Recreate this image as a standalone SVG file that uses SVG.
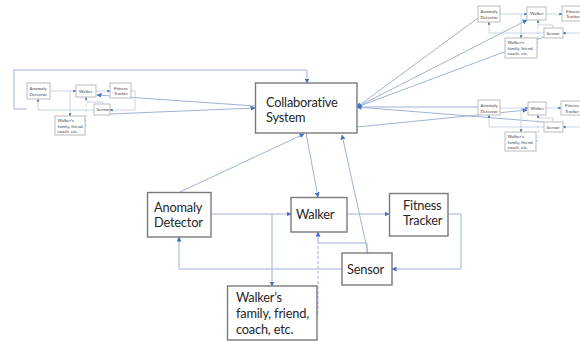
<svg xmlns="http://www.w3.org/2000/svg" width="580" height="341" viewBox="0 0 580 341">
  <style>
    .box { fill: #ffffff; stroke: #7a7a7a; stroke-width: 1.4; }
    .sbox { fill: #ffffff; stroke: #b4b4b4; stroke-width: 0.9; }
    .lbl { font-family: Lato, "Liberation Sans", sans-serif; font-size: 12.8px; letter-spacing: -0.2px; fill: #262626; }
    .tiny { font-family: Lato, "Liberation Sans", sans-serif; font-size: 4.4px; fill: #444444; }
    .ln { fill: none; stroke: #9fb2d6; stroke-width: 1; }
    .sln { fill: none; stroke: #bccae2; stroke-width: 0.8; }
    .dash { stroke-dasharray: 3 2; }
  </style>
  <defs>
    <marker id="arr" viewBox="0 0 10 10" refX="9" refY="5" markerWidth="5" markerHeight="5" orient="auto" markerUnits="userSpaceOnUse">
      <path d="M0,0 L10,5 L0,10 z" fill="#4472c4"/>
    </marker>
    <marker id="sarr" viewBox="0 0 10 10" refX="9" refY="5" markerWidth="3" markerHeight="3" orient="auto" markerUnits="userSpaceOnUse">
      <path d="M0,0 L10,5 L0,10 z" fill="#4472c4"/>
    </marker>
  </defs>

  <!-- connectors -->
  <g id="connectors">
    <!-- main cluster -->
    <path class="ln" d="M211,214 H291" marker-end="url(#arr)"/>
    <path class="ln" d="M272,214 V286" marker-end="url(#arr)"/>
    <path class="ln" d="M347,214 H389" marker-end="url(#arr)"/>
    <path class="ln" d="M448,214 H461 V269 H392" marker-end="url(#arr)"/>
    <path class="ln" d="M342,269 H179 V237" marker-end="url(#arr)"/>
    <path class="ln" d="M367,253 V243 H318 V232" marker-end="url(#arr)"/>
    <path class="ln dash" d="M317,313 H318 V243"/>
    <path class="ln" d="M368,253 L342,135" marker-end="url(#arr)"/>
    <path class="ln" d="M306,133 L318,197" marker-end="url(#arr)"/>
    <path class="ln" d="M180,192 L304,134" marker-end="url(#arr)"/>
    <path class="ln" d="M27,109 H14 V70 H307 V83" marker-end="url(#arr)"/>

    <!-- links between the collaborative system and the remote clusters -->
    <path class="ln" d="M255,106 L97,95" marker-end="url(#arr)"/>
    <path class="ln" d="M110,114 L255,108" marker-end="url(#arr)"/>
    <path class="ln" d="M478,18 L357,107" marker-end="url(#arr)"/>
    <path class="ln" d="M357,107 L527,20" marker-end="url(#arr)"/>
    <path class="ln" d="M544,37 L357,107" marker-end="url(#arr)"/>
    <path class="ln" d="M478,107 L357,107" marker-end="url(#arr)"/>
    <path class="ln" d="M357,127 L527,110" marker-end="url(#arr)"/>
    <path class="ln" d="M544,122 L357,107" marker-end="url(#arr)"/>

    <!-- left cluster -->
    <path class="sln" d="M50,91 H76" marker-end="url(#sarr)"/>
    <path class="sln" d="M70,91 V116" marker-end="url(#sarr)"/>
    <path class="sln" d="M96,91 H110" marker-end="url(#sarr)"/>
    <path class="sln" d="M131,91 H135 V110 H110" marker-end="url(#sarr)"/>
    <path class="sln" d="M94,110 H38 V99" marker-end="url(#sarr)"/>
    <path class="sln" d="M103,104 V102 H86 V97" marker-end="url(#sarr)"/>
    <path class="sln dash" d="M85,126 H86 V102"/>

    <!-- top-right cluster -->
    <path class="sln" d="M500,14 H527" marker-end="url(#sarr)"/>
    <path class="sln" d="M521,14 V38" marker-end="url(#sarr)"/>
    <path class="sln" d="M546,14 H562" marker-end="url(#sarr)"/>
    <path class="sln" d="M580,33 H563" marker-end="url(#sarr)"/>
    <path class="sln" d="M544,33 H489 V22" marker-end="url(#sarr)"/>
    <path class="sln" d="M553,28 V25 H538 V20" marker-end="url(#sarr)"/>
    <path class="sln dash" d="M537,48 H538 V25"/>

    <!-- bottom-right cluster -->
    <path class="sln" d="M500,108 H528" marker-end="url(#sarr)"/>
    <path class="sln" d="M521,108 V132" marker-end="url(#sarr)"/>
    <path class="sln" d="M546,108 H561" marker-end="url(#sarr)"/>
    <path class="sln" d="M580,127 H563" marker-end="url(#sarr)"/>
    <path class="sln" d="M544,127 H489 V115" marker-end="url(#sarr)"/>
    <path class="sln" d="M553,122 V118 H538 V115" marker-end="url(#sarr)"/>
    <path class="sln dash" d="M536,141 H538 V118"/>
  </g>

  <!-- main nodes -->
  <g id="collab">
    <rect class="box" x="255.5" y="83" width="101.5" height="50"/>
    <text class="lbl" x="266" y="107">Collaborative</text>
    <text class="lbl" x="266" y="122">System</text>
  </g>
  <g id="anomaly">
    <rect class="box" x="147.5" y="192.5" width="63.5" height="44.5"/>
    <text class="lbl" x="154" y="212">Anomaly</text>
    <text class="lbl" x="154" y="227">Detector</text>
  </g>
  <g id="walker">
    <rect class="box" x="291" y="197.5" width="56" height="34.5"/>
    <text class="lbl" x="296" y="219">Walker</text>
  </g>
  <g id="fitness">
    <rect class="box" x="389.5" y="193.5" width="58.5" height="42.5"/>
    <text class="lbl" x="403" y="210">Fitness</text>
    <text class="lbl" x="403" y="225">Tracker</text>
  </g>
  <g id="sensor">
    <rect class="box" x="342" y="253" width="50" height="32"/>
    <text class="lbl" x="347" y="274">Sensor</text>
  </g>
  <g id="family">
    <rect class="box" x="227.5" y="286" width="89.5" height="54"/>
    <text class="lbl" x="236" y="302">Walker’s</text>
    <text class="lbl" x="236" y="318">family, friend,</text>
    <text class="lbl" x="236" y="334">coach, etc.</text>
  </g>

  <!-- left cluster nodes -->
  <g id="l-anomaly">
    <rect class="sbox" x="27" y="83" width="23" height="16"/>
    <text class="tiny" x="29.5" y="90">Anomaly</text>
    <text class="tiny" x="29.5" y="96">Detector</text>
  </g>
  <g id="l-walker">
    <rect class="sbox" x="76" y="85" width="20" height="12"/>
    <text class="tiny" x="79" y="92.5">Walker</text>
  </g>
  <g id="l-fitness">
    <rect class="sbox" x="110" y="83" width="21" height="15"/>
    <text class="tiny" x="114" y="89.5">Fitness</text>
    <text class="tiny" x="114" y="95">Tracker</text>
  </g>
  <g id="l-sensor">
    <rect class="sbox" x="94" y="104" width="16" height="11"/>
    <text class="tiny" x="96.5" y="111">Sensor</text>
  </g>
  <g id="l-family">
    <rect class="sbox" x="55" y="116" width="30" height="19"/>
    <text class="tiny" x="57.5" y="122">Walker’s</text>
    <text class="tiny" x="57.5" y="127.5">family, friend,</text>
    <text class="tiny" x="57.5" y="133">coach, etc.</text>
  </g>

  <!-- top-right cluster nodes -->
  <g id="tr-anomaly">
    <rect class="sbox" x="478" y="6" width="22" height="16"/>
    <text class="tiny" x="480.5" y="13">Anomaly</text>
    <text class="tiny" x="480.5" y="19">Detector</text>
  </g>
  <g id="tr-walker">
    <rect class="sbox" x="527" y="7" width="19" height="13"/>
    <text class="tiny" x="530" y="15">Walker</text>
  </g>
  <g id="tr-fitness">
    <rect class="sbox" x="562" y="6" width="20" height="15"/>
    <text class="tiny" x="566" y="12.5">Fitness</text>
    <text class="tiny" x="566" y="18">Tracker</text>
  </g>
  <g id="tr-sensor">
    <rect class="sbox" x="544" y="28" width="19" height="10"/>
    <text class="tiny" x="546.5" y="34.5">Sensor</text>
  </g>
  <g id="tr-family">
    <rect class="sbox" x="505" y="38" width="32" height="20"/>
    <text class="tiny" x="507.5" y="44">Walker’s</text>
    <text class="tiny" x="507.5" y="49.5">family, friend,</text>
    <text class="tiny" x="507.5" y="55">coach, etc.</text>
  </g>

  <!-- bottom-right cluster nodes -->
  <g id="br-anomaly">
    <rect class="sbox" x="478" y="100" width="22" height="15"/>
    <text class="tiny" x="480.5" y="106.5">Anomaly</text>
    <text class="tiny" x="480.5" y="112.5">Detector</text>
  </g>
  <g id="br-walker">
    <rect class="sbox" x="528" y="102" width="18" height="13"/>
    <text class="tiny" x="530.5" y="110">Walker</text>
  </g>
  <g id="br-fitness">
    <rect class="sbox" x="561" y="101" width="21" height="14"/>
    <text class="tiny" x="565" y="107">Fitness</text>
    <text class="tiny" x="565" y="112.5">Tracker</text>
  </g>
  <g id="br-sensor">
    <rect class="sbox" x="544" y="122" width="19" height="10"/>
    <text class="tiny" x="546.5" y="128.5">Sensor</text>
  </g>
  <g id="br-family">
    <rect class="sbox" x="505" y="132" width="31" height="19"/>
    <text class="tiny" x="507.5" y="138">Walker’s</text>
    <text class="tiny" x="507.5" y="143.5">family, friend,</text>
    <text class="tiny" x="507.5" y="149">coach, etc.</text>
  </g>
</svg>
